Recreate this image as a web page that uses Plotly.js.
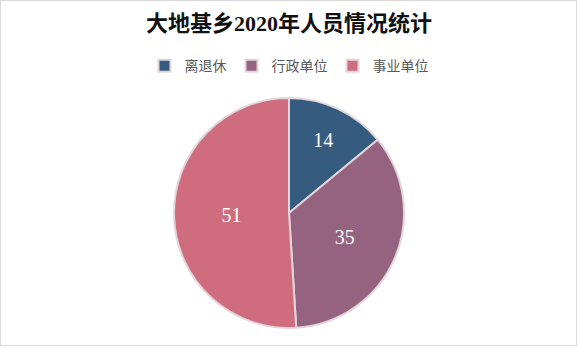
<!DOCTYPE html>
<html><head><meta charset="utf-8">
<script src="https://cdn.plot.ly/plotly-3.0.1.min.js"></script>
<style>
html,body{margin:0;padding:0;background:#fff;}
#wrap{position:relative;width:578px;height:357px;}
#chart{position:absolute;left:0;top:0;width:578px;height:357px;}
#frame{position:absolute;left:0;top:0;width:575px;height:344px;border:1px solid #d9d9d9;pointer-events:none;}
</style></head>
<body><div id="wrap"><div id="chart"></div><div id="frame"></div></div>
<script>
const categories = ['离退休', '行政单位', '事业单位'];
const values = [14, 35, 51];
const colors = ['#355c7e', '#95627f', '#cf6d7f'];

const trace = {
  type: 'pie',
  labels: categories,
  values: values,
  sort: false,
  direction: 'clockwise',
  rotation: 0,
  marker: {colors: colors, line: {color: '#e2d6dc', width: 2}},
  textinfo: 'value',
  textposition: 'inside',
  insidetextfont: {family: 'Liberation Serif, serif', size: 20, color: '#ffffff'},
  hoverinfo: 'label+value',
  domain: {x: [0, 1], y: [0, 1]}
};

const layout = {
  width: 578, height: 357,
  margin: {l: 0, r: 0, t: 98, b: 29},
  paper_bgcolor: '#ffffff',
  title: {
    text: '<b>大地基乡2020年人员情况统计</b>',
    font: {family: 'Liberation Serif, Noto Sans CJK SC, serif', size: 22, color: '#111111'},
    x: 0.5, xanchor: 'center', y: 0.935, yanchor: 'middle'
  },
  showlegend: true,
  legend: {
    orientation: 'h', x: 0.5, xanchor: 'center', y: 1.139, yanchor: 'middle',
    font: {family: 'Noto Sans CJK SC, sans-serif', size: 14, color: '#595959'},
    itemwidth: 30, traceorder: 'normal'
  }
};

Plotly.newPlot('chart', [trace], layout, {displayModeBar: false, staticPlot: true});
</script></body></html>
